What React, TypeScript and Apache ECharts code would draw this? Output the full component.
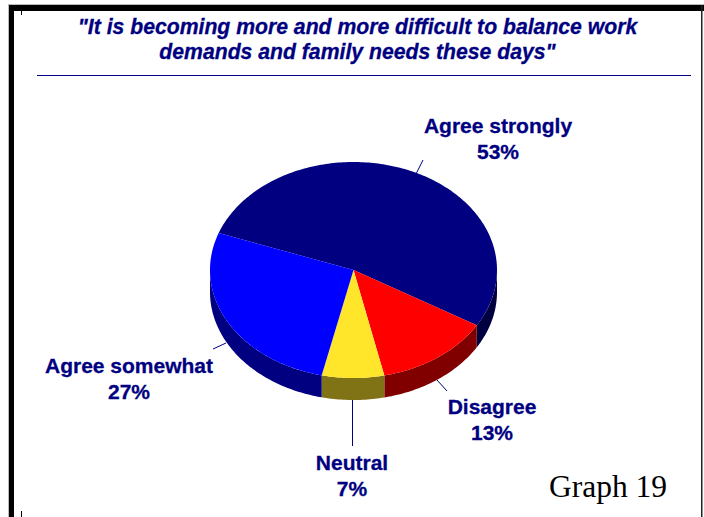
import React, { useEffect, useRef } from "react";
import * as echarts from "echarts";

const categories = ["Agree strongly", "Disagree", "Neutral", "Agree somewhat"];
const values = [53, 13, 7, 27];
const topColors = ["#000080", "#FF0000", "#FFE62B", "#0000FF"];
const sideColors = ["#000040", "#800000", "#807316", "#000080"];
const labelCenters = [[498, 125], [492, 406], [352, 462], [129, 365]];
const leaders = [
  [[423, 160], [416, 174]],
  [[437, 380], [447, 391]],
  [[352.5, 400], [352.5, 446]],
  [[213, 349], [226, 343]],
];
const titleLines = [
  '"It is becoming more and more difficult to balance work',
  'demands and family needs these days"',
];
const footer = "Graph 19";

const CX = 353.5, CY = 270, RX = 143.5, RY = 108, DEPTH = 22, START = 160;
const NAVY = "#000080";
const total = values.reduce((a, b) => a + b, 0);

function pt(deg: number, dy = 0): number[] {
  const r = (deg * Math.PI) / 180;
  return [CX + RX * Math.cos(r), CY - RY * Math.sin(r) + dy];
}
function arc(a0: number, a1: number, dy = 0): number[][] {
  const n = Math.max(2, Math.ceil(Math.abs(a1 - a0)));
  const out: number[][] = [];
  for (let i = 0; i <= n; i++) out.push(pt(a0 + ((a1 - a0) * i) / n, dy));
  return out;
}
function sliceStart(i: number): number {
  let s = 0;
  for (let k = 0; k < i; k++) s += values[k];
  return START - (s / total) * 360;
}

function renderSide(params: any, api: any) {
  const i = params.dataIndex;
  const a0 = sliceStart(i);
  const a1 = a0 - (api.value(0) / total) * 360;
  // visible wall: only the part of the rim on the front half, angles 0..-180
  const hi = Math.min(a0, 0);
  const lo = Math.max(a1, -180);
  if (hi <= lo) return { type: "group", children: [] };
  const pts = [...arc(hi, lo, 0), ...arc(lo, hi, DEPTH)];
  return { type: "polygon", shape: { points: pts }, style: { fill: sideColors[i] } };
}
function renderTop(params: any, api: any) {
  const i = params.dataIndex;
  const a0 = sliceStart(i);
  const a1 = a0 - (api.value(0) / total) * 360;
  return {
    type: "polygon",
    shape: { points: [[CX, CY], ...arc(a0, a1)] },
    style: { fill: topColors[i] },
  };
}

export default function App() {
  const ref = useRef<HTMLDivElement>(null);
  useEffect(() => {
    document.body.style.margin = "0";
    const chart = echarts.init(ref.current!, undefined, { renderer: "svg" });
    const heavy = { stroke: NAVY, lineWidth: 0.3 };
    const titleFont = { fontFamily: "Liberation Sans", fontWeight: "bold", fontStyle: "italic", fontSize: 21.2, fill: NAVY, ...heavy };
    const labelFont = { fontFamily: "Liberation Sans", fontWeight: "bold", fontSize: 21, fill: NAVY, ...heavy };
    const graphics: any[] = [
      { type: "rect", shape: { x: 8, y: 4, width: 696, height: 1 }, style: { fill: "#bbb" } },
      { type: "rect", shape: { x: 8, y: 4, width: 1, height: 513 }, style: { fill: "#bbb" } },
      { type: "rect", shape: { x: 9, y: 5, width: 695, height: 6 }, style: { fill: "#000" } },
      { type: "rect", shape: { x: 9, y: 5, width: 5, height: 512 }, style: { fill: "#000" } },
      { type: "rect", shape: { x: 701, y: 5, width: 1.5, height: 512 }, style: { fill: "#222" } },
      { type: "rect", shape: { x: 21, y: 11, width: 1, height: 4 }, style: { fill: "#000" } },
      { type: "rect", shape: { x: 21, y: 511, width: 1, height: 6 }, style: { fill: "#000" } },
      { type: "line", shape: { x1: 37, y1: 75.5, x2: 691, y2: 75.5 }, style: { stroke: NAVY, lineWidth: 1 } },
      ...titleLines.map((t, k) => ({
        type: "text", x: 357.5, y: 26.5 + k * 25,
        style: { text: t, textAlign: "center", textVerticalAlign: "middle", ...titleFont },
      })),
      ...leaders.map((l) => ({
        type: "line",
        shape: { x1: l[0][0], y1: l[0][1], x2: l[1][0], y2: l[1][1] },
        style: { stroke: NAVY, lineWidth: 1 },
      })),
      ...categories.flatMap((c, i) => [c, values[i] + "%"].map((t, k) => ({
        type: "text", x: labelCenters[i][0], y: labelCenters[i][1] + k * 26,
        style: { text: t, textAlign: "center", textVerticalAlign: "middle", ...labelFont },
      }))),
      {
        type: "text", x: 608, y: 486,
        style: { text: footer, textAlign: "center", textVerticalAlign: "middle", fontFamily: "Liberation Serif", fontSize: 31.5, fill: "#000" },
      },
    ];
    const seriesData = categories.map((c, i) => ({ name: c, value: values[i] }));
    chart.setOption({
      animation: false,
      backgroundColor: "#fff",
      series: [
        { type: "custom", coordinateSystem: "none", renderItem: renderSide, data: seriesData, silent: true, z: 1 },
        { type: "custom", coordinateSystem: "none", renderItem: renderTop, data: seriesData, silent: true, z: 2 },
      ],
      graphic: graphics,
    });
    return () => chart.dispose();
  }, []);
  return <div ref={ref} style={{ width: 704, height: 517 }} />;
}
